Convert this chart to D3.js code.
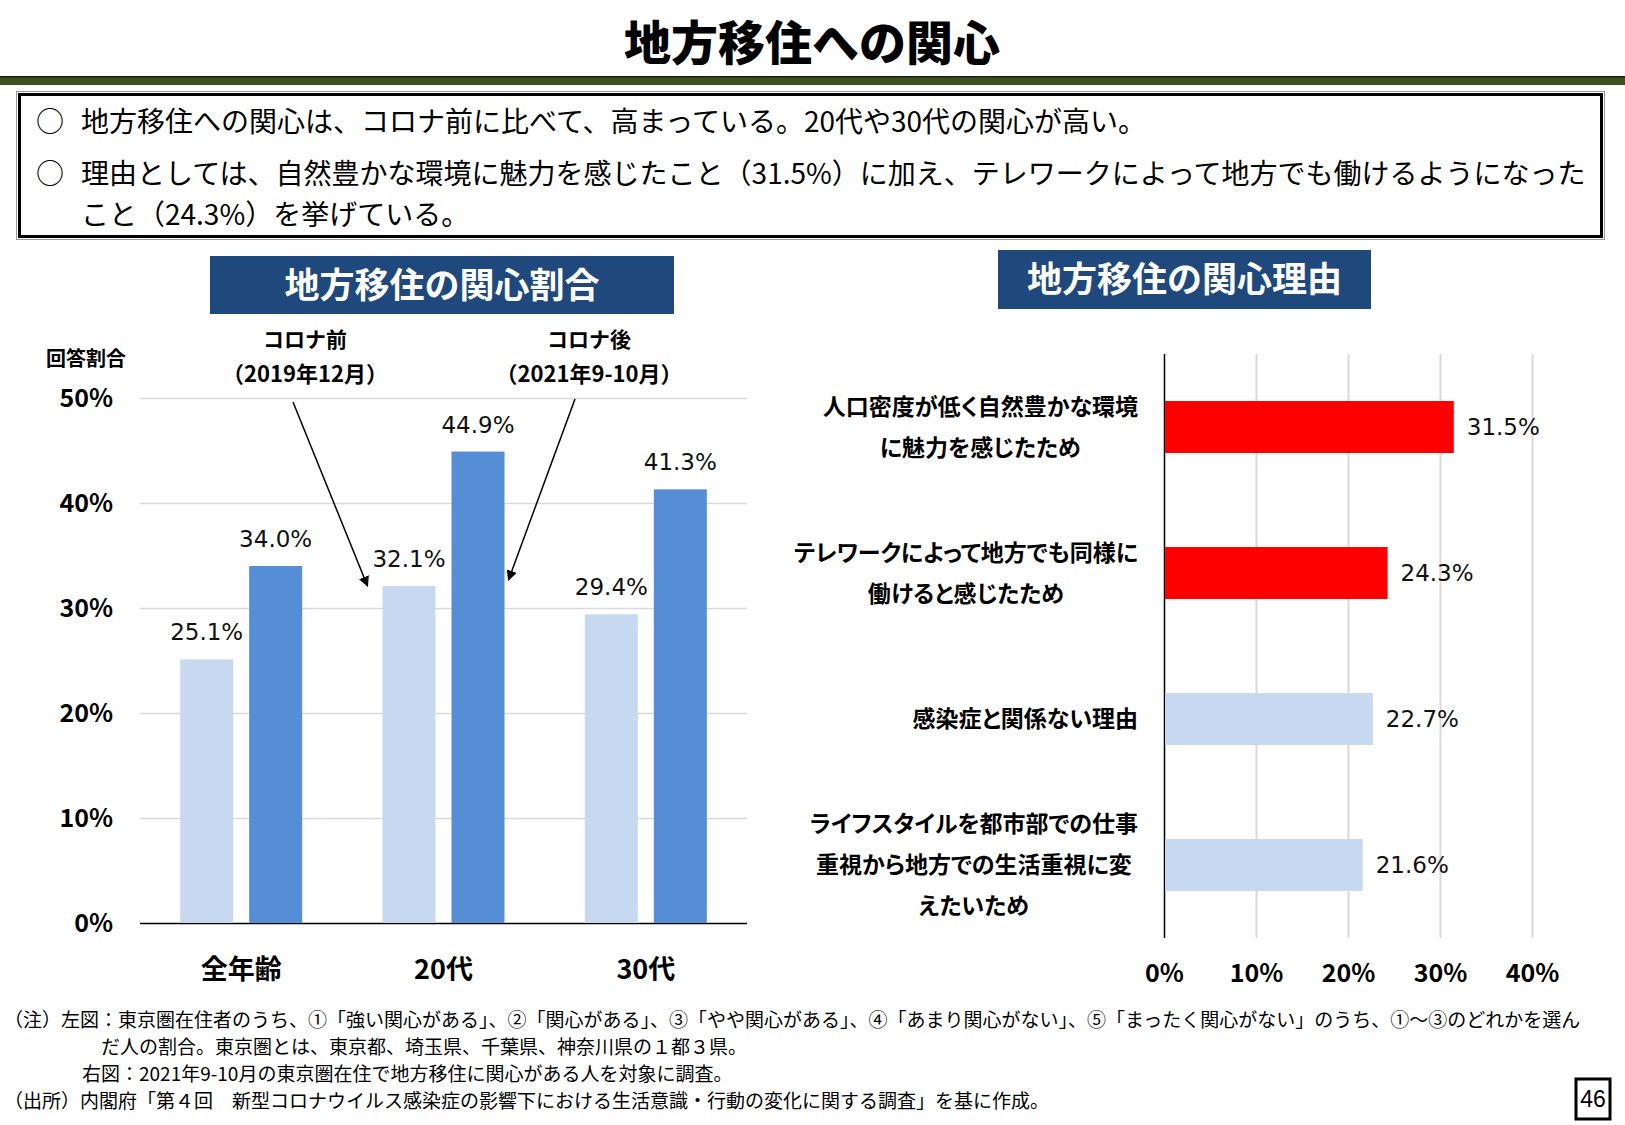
<!DOCTYPE html>
<html>
<head>
<meta charset="utf-8">
<script src="https://cdn.jsdelivr.net/npm/d3@7"></script>
<style>
body { margin: 0; background: #fff; }
svg { display: block; font-family: "Noto Sans CJK JP", "Noto Sans", sans-serif; }
</style>
</head>
<body>
<div id="chart"></div>
<script>
// left chart: interest in moving to regions, by age
const ageGroups = ['全年齢', '20代', '30代']
const seriesNames = ['コロナ前', 'コロナ後']
const seriesPeriods = ['（2019年12月）', '（2021年9-10月）']
const beforeCorona = [25.1, 32.1, 29.4]
const afterCorona = [34.0, 44.9, 41.3]
const interestTicks = [0, 10, 20, 30, 40, 50]

// right chart: reasons
const reasons = [
	'人口密度が低く自然豊かな環境\nに魅力を感じたため',
	'テレワークによって地方でも同様に\n働けると感じたため',
	'感染症と関係ない理由',
	'ライフスタイルを都市部での仕事\n重視から地方での生活重視に変\nえたいため'
]
const reasonValues = [31.5, 24.3, 22.7, 21.6]
const reasonHighlight = [true, true, false, false]
const reasonTicks = [0, 10, 20, 30, 40]

const pageTitle = '地方移住への関心'
const summary = [
	['○', '地方移住への関心は、コロナ前に比べて、高まっている。20代や30代の関心が高い。'],
	['○', '理由としては、自然豊かな環境に魅力を感じたこと（31.5%）に加え、テレワークによって地方でも働けるようになった'],
	['', 'こと（24.3%）を挙げている。']
]
const leftTitle = '地方移住の関心割合'
const rightTitle = '地方移住の関心理由'
const yAxisTitle = '回答割合'
const notes = [
	'（注）左図：東京圏在住者のうち、①「強い関心がある」、②「関心がある」、③「やや関心がある」、④「あまり関心がない」、⑤「まったく関心がない」のうち、①～③のどれかを選ん',
	'だ人の割合。東京圏とは、東京都、埼玉県、千葉県、神奈川県の１都３県。',
	'右図：2021年9-10月の東京圏在住で地方移住に関心がある人を対象に調査。',
	'（出所）内閣府「第４回　新型コロナウイルス感染症の影響下における生活意識・行動の変化に関する調査」を基に作成。'
]
const pageNumber = '46'

const W = 1625, H = 1125
const lightBlue = '#c6d9f1'
const darkBlue = '#558ed5'
const gridGrey = '#d9d9d9'

const svg = d3.select('#chart').append('svg')
	.attr('width', W)
	.attr('height', H)

svg.append('defs').append('marker')
	.attr('id', 'arrow')
	.attr('viewBox', '0 0 10 10')
	.attr('refX', 9).attr('refY', 5)
	.attr('markerWidth', 7).attr('markerHeight', 7)
	.attr('orient', 'auto')
	.append('path')
		.attr('d', 'M0,0 L10,5 L0,10 Z')
		.attr('fill', '#000')

// header
svg.append('text')
	.attr('x', 812).attr('y', 44)
	.attr('dy', '0.35em')
	.attr('text-anchor', 'middle')
	.attr('font-size', 47)
	.attr('font-weight', 900)
	.text(pageTitle)

svg.append('rect').attr('x', 0).attr('y', 76).attr('width', W).attr('height', 9).attr('fill', '#3d5020')
svg.append('rect').attr('x', 0).attr('y', 76).attr('width', W).attr('height', 1.5).attr('fill', '#1c260c')

// summary box
svg.append('rect')
	.attr('x', 16.5).attr('y', 91.5).attr('width', 1588).attr('height', 148)
	.attr('fill', 'none').attr('stroke', '#999').attr('stroke-width', 1)
svg.append('rect')
	.attr('x', 19.5).attr('y', 94.5).attr('width', 1582).attr('height', 142)
	.attr('fill', '#fff').attr('stroke', '#000').attr('stroke-width', 3)

const summaryY = [122, 174, 215]
summary.forEach((row, i) => {
	svg.append('text')
		.attr('x', 36).attr('y', summaryY[i]).attr('dy', '0.35em')
		.attr('font-size', 28)
		.text(row[0])
	svg.append('text')
		.attr('x', 81).attr('y', summaryY[i]).attr('dy', '0.35em')
		.attr('font-size', 28)
		.text(row[1])
})

// panel titles
const titleBox = (x, y, w, h, label) => {
	svg.append('rect').attr('x', x).attr('y', y).attr('width', w).attr('height', h).attr('fill', '#1f497d')
	svg.append('text')
		.attr('x', x + w / 2).attr('y', y + h / 2).attr('dy', '0.36em')
		.attr('text-anchor', 'middle')
		.attr('font-size', 35)
		.attr('font-weight', 700)
		.attr('fill', '#fff')
		.text(label)
}
titleBox(210, 256, 464, 58, leftTitle)
titleBox(998, 250, 373, 59, rightTitle)

// ---- left chart ----
const left = { x0: 140, x1: 747, top: 398, bottom: 923 }

const x0 = d3.scaleBand()
	.domain(ageGroups)
	.range([left.x0, left.x1])
	.paddingInner(0.397)
	.paddingOuter(0.1985)

const x1 = d3.scaleBand()
	.domain([0, 1])
	.range([0, x0.bandwidth()])
	.paddingInner(0.232)

const y = d3.scaleLinear()
	.domain([0, 50])
	.range([left.bottom, left.top])

const yAxis = svg.append('g')
	.attr('transform', `translate(${left.x0},0)`)
	.call(d3.axisLeft(y)
		.tickValues(interestTicks)
		.tickSize(-(left.x1 - left.x0))
		.tickPadding(27)
		.tickFormat(d => d + '%'))
yAxis.select('.domain').remove()
yAxis.selectAll('.tick line')
	.attr('stroke', d => d === 0 ? '#000' : gridGrey)
	.attr('stroke-width', 1.5)
yAxis.selectAll('.tick text')
	.attr('font-size', 25)
	.attr('font-weight', 700)
	.attr('font-family', '"Noto Sans CJK JP", sans-serif')
	.attr('fill', '#000')

svg.append('text')
	.attr('x', 86).attr('y', 359).attr('dy', '0.35em')
	.attr('text-anchor', 'middle')
	.attr('font-size', 20)
	.attr('font-weight', 700)
	.text(yAxisTitle)

const groupData = ageGroups.map((g, i) => ({ group: g, values: [beforeCorona[i], afterCorona[i]] }))

const groups = svg.selectAll('g.age')
	.data(groupData)
	.enter()
		.append('g')
			.attr('class', 'age')
			.attr('transform', d => `translate(${x0(d.group)},0)`)

groups.selectAll('rect')
	.data(d => d.values)
	.enter()
		.append('rect')
			.attr('x', (d, i) => x1(i))
			.attr('y', d => y(d))
			.attr('width', x1.bandwidth())
			.attr('height', d => y(0) - y(d))
			.attr('fill', (d, i) => i === 0 ? lightBlue : darkBlue)

groups.selectAll('text.val')
	.data(d => d.values)
	.enter()
		.append('text')
			.attr('class', 'val')
			.attr('x', (d, i) => x1(i) + x1.bandwidth() / 2)
			.attr('y', d => y(d) - 19)
			.attr('text-anchor', 'middle')
			.attr('font-size', 23)
			.attr('font-family', '"DejaVu Sans", sans-serif')
			.attr('fill', '#111')
			.text(d => d.toFixed(1) + '%')

svg.selectAll('text.age-label')
	.data(ageGroups)
	.enter()
		.append('text')
			.attr('class', 'age-label')
			.attr('x', d => x0(d) + x0.bandwidth() / 2)
			.attr('y', 970).attr('dy', '0.35em')
			.attr('text-anchor', 'middle')
			.attr('font-size', 27)
			.attr('font-weight', 700)
			.text(d => d)

// series callouts with arrows into the 20代 group
const calloutX = [305, 589]
seriesNames.forEach((name, i) => {
	svg.append('text')
		.attr('x', calloutX[i]).attr('y', 340).attr('dy', '0.35em')
		.attr('text-anchor', 'middle')
		.attr('font-size', 21).attr('font-weight', 700)
		.text(name)
	svg.append('text')
		.attr('x', calloutX[i]).attr('y', 374).attr('dy', '0.35em')
		.attr('text-anchor', 'middle')
		.attr('font-size', 22).attr('font-weight', 700)
		.text(seriesPeriods[i])
})
const target = ageGroups[1]
svg.append('line')
	.attr('x1', 293).attr('y1', 402)
	.attr('x2', x0(target) + x1(0) - 15).attr('y2', y(beforeCorona[1]))
	.attr('stroke', '#000').attr('stroke-width', 1.5)
	.attr('marker-end', 'url(#arrow)')
svg.append('line')
	.attr('x1', 575).attr('y1', 399)
	.attr('x2', x0(target) + x1(1) + x1.bandwidth() + 4).attr('y2', y(beforeCorona[1]) - 6)
	.attr('stroke', '#000').attr('stroke-width', 1.5)
	.attr('marker-end', 'url(#arrow)')

// ---- right chart ----
const right = { x0: 1164, x1: 1532, top: 354, bottom: 938 }

const xR = d3.scaleLinear()
	.domain([0, 40])
	.range([right.x0, right.x1])

const yR = d3.scaleBand()
	.domain(reasons)
	.range([right.top, right.bottom])
	.paddingInner(0.644)
	.paddingOuter(0.322)

const xAxisR = svg.append('g')
	.attr('transform', `translate(0,${right.bottom})`)
	.call(d3.axisBottom(xR)
		.tickValues(reasonTicks)
		.tickSize(-(right.bottom - right.top))
		.tickPadding(26)
		.tickFormat(d => d + '%'))
xAxisR.select('.domain').remove()
xAxisR.selectAll('.tick line')
	.attr('stroke', d => d === 0 ? '#000' : gridGrey)
	.attr('stroke-width', d => d === 0 ? 1.5 : 2)
xAxisR.selectAll('.tick text')
	.attr('font-size', 25)
	.attr('font-weight', 700)
	.attr('font-family', '"Noto Sans CJK JP", sans-serif')
	.attr('fill', '#000')

const reasonData = reasons.map((r, i) => ({ reason: r, value: reasonValues[i], hot: reasonHighlight[i] }))

svg.selectAll('rect.reason')
	.data(reasonData)
	.enter()
		.append('rect')
			.attr('class', 'reason')
			.attr('x', xR(0) + 1)
			.attr('y', d => yR(d.reason))
			.attr('width', d => xR(d.value) - xR(0) - 1)
			.attr('height', yR.bandwidth())
			.attr('fill', d => d.hot ? '#ff0000' : lightBlue)

svg.selectAll('text.reason-val')
	.data(reasonData)
	.enter()
		.append('text')
			.attr('class', 'reason-val')
			.attr('x', d => xR(d.value) + 13)
			.attr('y', d => yR(d.reason) + yR.bandwidth() / 2)
			.attr('dy', '0.35em')
			.attr('font-size', 23)
			.attr('font-family', '"DejaVu Sans", sans-serif')
			.attr('fill', '#111')
			.text(d => d.value.toFixed(1) + '%')

// wrapped category labels: lines centred in a block that is right-aligned to the axis
const labelRight = right.x0 - 26
const lineGap = 41
reasonData.forEach(d => {
	const lines = d.reason.split('\n')
	const cy = yR(d.reason) + yR.bandwidth() / 2
	const t = svg.append('text')
		.attr('text-anchor', 'middle')
		.attr('font-size', 23)
		.attr('font-weight', 700)
		.style('font-feature-settings', '"palt"')
	const spans = lines.map((line, i) => t.append('tspan')
		.attr('y', cy + (i - (lines.length - 1) / 2) * lineGap)
		.attr('dy', '0.35em')
		.text(line))
	const widest = d3.max(spans, s => s.node().getComputedTextLength())
	spans.forEach(s => s.attr('x', labelRight - widest / 2))
})

// ---- notes ----
const noteX = [4, 101, 82, 4]
const noteY = [1020, 1047, 1074, 1101]
notes.forEach((n, i) => {
	svg.append('text')
		.attr('x', noteX[i]).attr('y', noteY[i]).attr('dy', '0.35em')
		.attr('font-size', 19)
		.text(n)
})

svg.append('rect')
	.attr('x', 1576).attr('y', 1079).attr('width', 34).attr('height', 40)
	.attr('fill', '#fff').attr('stroke', '#000').attr('stroke-width', 3)
svg.append('text')
	.attr('x', 1593).attr('y', 1099).attr('dy', '0.36em')
	.attr('text-anchor', 'middle')
	.attr('font-size', 23)
	.attr('font-family', '"Liberation Sans", sans-serif')
	.text(pageNumber)
</script>
</body>
</html>
